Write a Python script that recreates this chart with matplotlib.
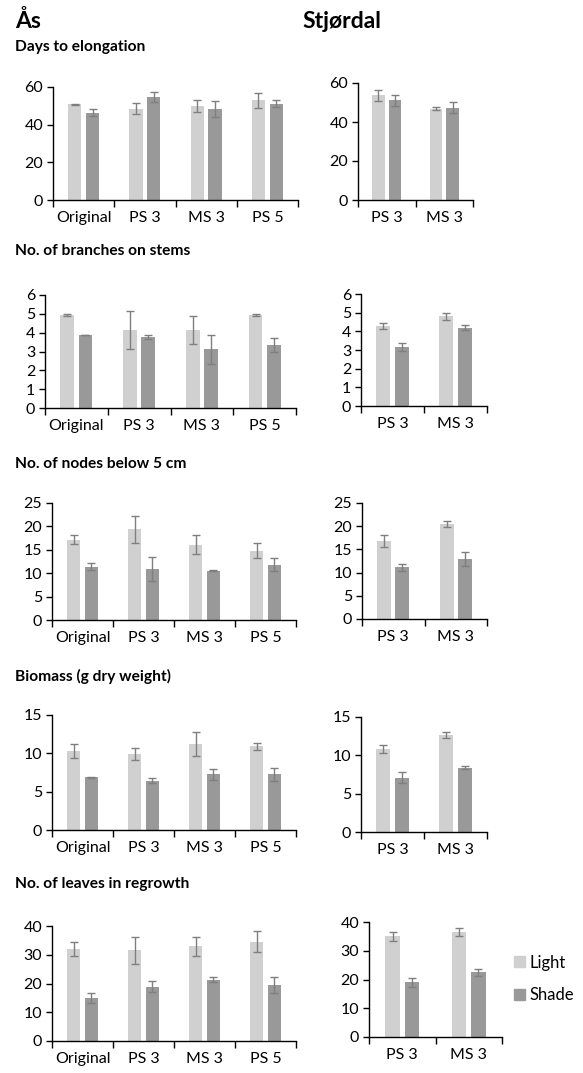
import numpy as np
import matplotlib.pyplot as plt
from matplotlib.patches import Patch

plt.rcParams['font.family'] = ['Lato', 'DejaVu Sans']

# ===============================
# Data
# ===============================
cats_as = ['Original', 'PS 3', 'MS 3', 'PS 5']
cats_st = ['PS 3', 'MS 3']

titles = ['Days to elongation', 'No. of branches on stems', 'No. of nodes below 5 cm',
          'Biomass (g dry weight)', 'No. of leaves in regrowth']
ymax = [60, 6, 25, 15, 40]
ystep = [20, 1, 5, 5, 10]

# Ås: light / shade means and errors
as_light = [[50.8, 48.5, 49.9, 52.9],
            [4.95, 4.15, 4.15, 4.95],
            [17.2, 19.4, 16.1, 14.8],
            [10.3, 9.9, 11.2, 10.9],
            [32.0, 31.5, 33.0, 34.5]]
as_light_err = [[0.4, 2.8, 3.2, 4.0],
                [0.05, 1.0, 0.75, 0.04],
                [1.0, 2.9, 2.0, 1.6],
                [0.9, 0.8, 1.6, 0.5],
                [2.5, 4.6, 3.3, 3.6]]
as_shade = [[46.4, 54.8, 48.3, 51.2],
            [3.88, 3.78, 3.12, 3.35],
            [11.4, 10.9, 10.5, 11.8],
            [6.85, 6.45, 7.25, 7.25],
            [15.0, 18.8, 21.3, 19.4]]
as_shade_err = [[1.9, 2.5, 4.2, 2.0],
                [0.02, 0.12, 0.78, 0.35],
                [0.7, 2.6, 0.12, 1.4],
                [0.05, 0.35, 0.7, 0.9],
                [1.8, 1.9, 0.8, 2.8]]

# Stjørdal
st_light = [[53.6, 46.9], [4.28, 4.8], [16.9, 20.5], [10.8, 12.6], [35.0, 36.5]]
st_light_err = [[3.0, 0.9], [0.17, 0.17], [1.3, 0.7], [0.5, 0.4], [1.5, 1.4]]
st_shade = [[51.1, 47.4], [3.15, 4.2], [11.1, 12.9], [7.1, 8.4], [19.0, 22.5]]
st_shade_err = [[2.7, 2.7], [0.22, 0.12], [0.8, 1.5], [0.7, 0.2], [1.5, 1.3]]

cor_light = '#d0d0d0'
cor_shade = '#999999'
cor_err = '#7f7f7f'

W, H = 583, 1073

# caixas dos eixos em pixels: (x0, x1, y_topo, y_base)
boxes_as = [(53, 298, 87, 200), (45, 296, 295, 408), (52, 296, 503, 620),
            (52, 296, 715, 830), (52, 296, 926, 1041)]
boxes_st = [(358, 473, 83, 200), (361, 487, 294, 406), (362, 487, 503, 619),
            (361, 487, 717, 832), (369, 502, 922, 1037)]

fig = plt.figure(figsize=(W / 100, H / 100), dpi=100)


def painel(box, cats, light, light_err, shade, shade_err, ym, step):
    x0, x1, yt, yb = box
    ax = fig.add_axes([x0 / W, 1 - yb / H, (x1 - x0) / W, (yb - yt) / H])
    x = np.arange(len(cats))
    w = 0.22
    d = 0.145
    ek = dict(ecolor=cor_err, elinewidth=1, capsize=3, capthick=1)
    ax.bar(x - d, light, w, color=cor_light, yerr=light_err, error_kw=ek)
    ax.bar(x + d, shade, w, color=cor_shade, yerr=shade_err, error_kw=ek)
    ax.set_xlim(-0.5, len(cats) - 0.5)
    ax.set_ylim(0, ym)
    ax.set_yticks(np.arange(0, ym + step / 2, step))
    ax.set_xticks(np.arange(len(cats) + 1) - 0.5)
    ax.set_xticklabels([])
    ax.set_xticks(x, minor=True)
    ax.set_xticklabels(cats, minor=True)
    ax.tick_params(axis='x', which='major', length=5, width=1, direction='out')
    ax.tick_params(axis='x', which='minor', length=0, pad=8, labelsize=11.5)
    ax.tick_params(axis='y', length=4, width=1, labelsize=11.5, pad=3)
    for s in ['top', 'right']:
        ax.spines[s].set_visible(False)
    for s in ['left', 'bottom']:
        ax.spines[s].set_linewidth(1)
    return ax


for i in range(5):
    painel(boxes_as[i], cats_as, as_light[i], as_light_err[i],
           as_shade[i], as_shade_err[i], ymax[i], ystep[i])
    painel(boxes_st[i], cats_st, st_light[i], st_light_err[i],
           st_shade[i], st_shade_err[i], ymax[i], ystep[i])

# titulos
fig.text(15 / W, 1 - 21 / H, 'Ås', fontsize=16.5, fontweight='bold', va='center')
fig.text(302 / W, 1 - 21 / H, 'Stjørdal', fontsize=16.5, fontweight='bold', va='center')
title_y = [47, 251, 464, 676, 884]
for t, yy in zip(titles, title_y):
    fig.text(15 / W, 1 - yy / H, t, fontsize=11.2, fontweight='bold', va='center')

# legenda
handles = [Patch(color=cor_light, label='Light'), Patch(color=cor_shade, label='Shade')]
fig.legend(handles=handles, loc='center left', bbox_to_anchor=(499 / W, 1 - 979 / H),
           frameon=False, fontsize=12, handlelength=0.65, handleheight=0.65,
           handletextpad=0.3, labelspacing=1.0)

fig.savefig('out.png', dpi=100)
